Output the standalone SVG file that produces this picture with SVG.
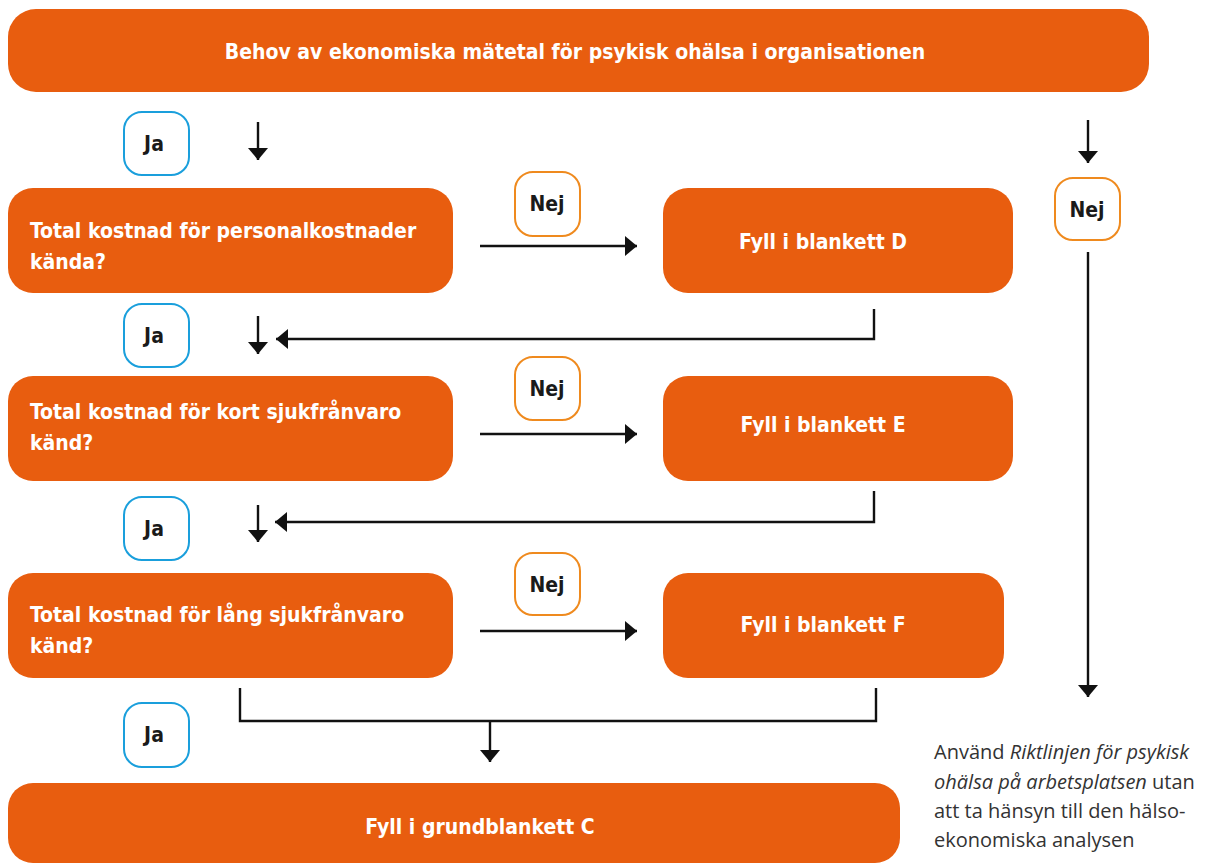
<svg xmlns="http://www.w3.org/2000/svg" width="1207" height="863" viewBox="0 0 1207 863">
<defs>
<style>
.box{fill:#E85D0F;}
.bt{font-family:"DejaVu Sans Condensed","DejaVu Sans",sans-serif;font-stretch:condensed;font-weight:bold;font-size:21px;fill:#ffffff;}
.bc{text-anchor:middle;}
.ja{fill:#ffffff;stroke:#1A9FDC;stroke-width:2;}
.nej{fill:#ffffff;stroke:#EF8A1E;stroke-width:2;}
.lt{font-family:"DejaVu Sans Condensed","DejaVu Sans",sans-serif;font-stretch:condensed;font-weight:bold;font-size:21px;fill:#1a1a1a;text-anchor:middle;}
.ln{fill:none;stroke:#111111;stroke-width:2.4;}
.side{font-family:"Open Sans","Noto Sans",sans-serif;font-size:20px;fill:#333333;}
</style>
<marker id="ah" markerUnits="userSpaceOnUse" markerWidth="22" markerHeight="22" viewBox="0 0 22 22" refX="12" refY="11" orient="auto">
<path d="M0,1 L12,11 L0,21 Z" fill="#111111"/>
</marker>
</defs>

<g id="n-top">
<rect class="box" x="8" y="9" width="1141" height="83" rx="28"/>
<text class="bt bc" x="575" y="59">Behov av ekonomiska mätetal för psykisk ohälsa i organisationen</text>
</g>

<g id="n-q1">
<rect class="box" x="8" y="188" width="445" height="105" rx="25"/>
<text class="bt" x="30" y="238">Total kostnad för personalkostnader</text>
<text class="bt" x="30" y="269">kända?</text>
</g>
<g id="n-d">
<rect class="box" x="663" y="188" width="350" height="105" rx="25"/>
<text class="bt bc" x="823" y="249">Fyll i blankett D</text>
</g>

<g id="n-q2">
<rect class="box" x="8" y="376" width="445" height="105" rx="25"/>
<text class="bt" x="30" y="419">Total kostnad för kort sjukfrånvaro</text>
<text class="bt" x="30" y="450">känd?</text>
</g>
<g id="n-e">
<rect class="box" x="663" y="376" width="350" height="105" rx="25"/>
<text class="bt bc" x="823" y="432">Fyll i blankett E</text>
</g>

<g id="n-q3">
<rect class="box" x="8" y="573" width="445" height="105" rx="25"/>
<text class="bt" x="30" y="622">Total kostnad för lång sjukfrånvaro</text>
<text class="bt" x="30" y="653">känd?</text>
</g>
<g id="n-f">
<rect class="box" x="663" y="573" width="341" height="105" rx="25"/>
<text class="bt bc" x="823" y="632">Fyll i blankett F</text>
</g>

<g id="n-c">
<rect class="box" x="8" y="783" width="892" height="80" rx="25"/>
<text class="bt bc" x="480" y="834">Fyll i grundblankett C</text>
</g>

<g id="labels">
<g id="l-ja1"><rect class="ja" x="124" y="112" width="65" height="63" rx="18"/><text class="lt" x="154" y="151">Ja</text></g>
<g id="l-ja2"><rect class="ja" x="124" y="304" width="65" height="63" rx="18"/><text class="lt" x="154" y="343">Ja</text></g>
<g id="l-ja3"><rect class="ja" x="124" y="497" width="65" height="63" rx="18"/><text class="lt" x="154" y="536">Ja</text></g>
<g id="l-ja4"><rect class="ja" x="124" y="703" width="65" height="64" rx="18"/><text class="lt" x="154" y="742">Ja</text></g>
<g id="l-nej1"><rect class="nej" x="515" y="172" width="65" height="64" rx="18"/><text class="lt" x="547" y="211">Nej</text></g>
<g id="l-nej2"><rect class="nej" x="515" y="357" width="65" height="63" rx="18"/><text class="lt" x="547" y="396">Nej</text></g>
<g id="l-nej3"><rect class="nej" x="515" y="553" width="65" height="62" rx="18"/><text class="lt" x="547" y="592">Nej</text></g>
<g id="l-nej4"><rect class="nej" x="1055" y="178" width="65" height="62" rx="18"/><text class="lt" x="1087" y="217">Nej</text></g>
</g>

<g id="connectors">
<line class="ln" x1="258" y1="122" x2="258" y2="160" marker-end="url(#ah)"/>
<line class="ln" x1="480" y1="246" x2="637" y2="246" marker-end="url(#ah)"/>
<line class="ln" x1="1088" y1="120" x2="1088" y2="163" marker-end="url(#ah)"/>
<line class="ln" x1="1088" y1="252" x2="1088" y2="697" marker-end="url(#ah)"/>

<line class="ln" x1="258" y1="316" x2="258" y2="354" marker-end="url(#ah)"/>
<polyline class="ln" points="874,309 874,339 276,339" marker-end="url(#ah)"/>
<line class="ln" x1="480" y1="434" x2="637" y2="434" marker-end="url(#ah)"/>

<line class="ln" x1="258" y1="505" x2="258" y2="542" marker-end="url(#ah)"/>
<polyline class="ln" points="874,491 874,522 275,522" marker-end="url(#ah)"/>
<line class="ln" x1="480" y1="631" x2="637" y2="631" marker-end="url(#ah)"/>

<polyline class="ln" points="240,688 240,721 876,721 876,688"/>
<line class="ln" x1="490" y1="721" x2="490" y2="762" marker-end="url(#ah)"/>
</g>

<g id="note">
<text class="side" x="934" y="759">Använd <tspan font-style="italic">Riktlinjen för psykisk</tspan></text>
<text class="side" x="934" y="789"><tspan font-style="italic">ohälsa på arbetsplatsen</tspan> utan</text>
<text class="side" x="934" y="818">att ta hänsyn till den hälso-</text>
<text class="side" x="934" y="847">ekonomiska analysen</text>
</g>
</svg>
